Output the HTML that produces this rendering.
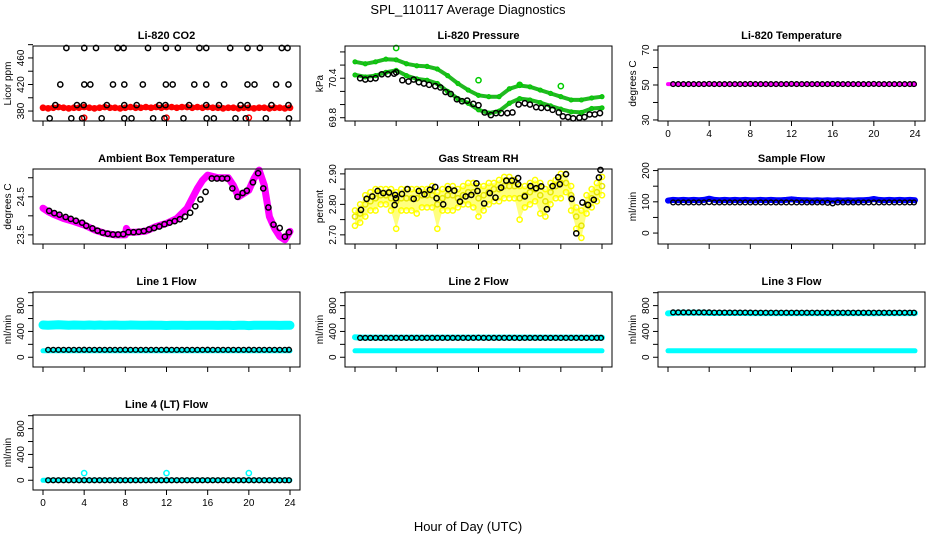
<!DOCTYPE html>
<html><head><meta charset="utf-8"><style>
html,body{margin:0;padding:0;background:#fff}
svg{display:block;font-family:"Liberation Sans",sans-serif}
</style></head><body>
<svg id="chart" width="936" height="540" viewBox="0 0 936 540" xmlns="http://www.w3.org/2000/svg">
<rect x="0" y="0" width="936" height="540" fill="#fff"/>
<text x="468" y="14" text-anchor="middle" font-size="13">SPL_110117  Average Diagnostics</text>
<text x="468" y="531" text-anchor="middle" font-size="13">Hour of Day (UTC)</text>
</svg>
<script>
// ---- shared time arrays ----
const HALF = [0,0.5,1,1.5,2,2.5,3,3.5,4,4.5,5,5.5,6,6.5,7,7.5,8,8.5,9,9.5,10,10.5,11,11.5,12,12.5,13,13.5,14,14.5,15,15.5,16,16.5,17,17.5,18,18.5,19,19.5,20,20.5,21,21.5,22,22.5,23,23.5,24];
const BT = [0.5,1,1.5,2,2.5,3,3.5,4,4.5,5,5.5,6,6.5,7,7.5,8,8.5,9,9.5,10,10.5,11,11.5,12,12.5,13,13.5,14,14.5,15,15.5,16,16.5,17,17.5,18,18.5,19,19.5,20,20.5,21,21.5,22,22.5,23,23.5,23.9];
const XTICKS = [0,4,8,12,16,20,24];

// ---- CO2 ----
const co2RedV = [385,384,385,386,385,384,385,385,386,385,384,385,386,385,385,384,385,386,385,385,386,385,386,385,386,386,385,386,386,385,386,385,386,385,385,384,385,385,384,385,385,384,385,385,384,385,385,384,385];
const co2RedOutT = [4,12,20];
const co2RedOutV = [370,370,370];
const co2BlkT = [2.27,4.01,5.15,7.25,7.83,10.2,11.94,13.1,15.2,15.86,18.19,19.87,21.07,23.2,23.76,
 1.68,4.01,4.6,6.8,7.9,9.7,11.94,12.6,14.7,15.86,17.6,19.87,20.55,22.65,23.85,
 1.2,3.3,3.95,6.2,7.9,9.1,11.3,11.9,14.2,15.86,17.1,19.2,19.87,22.2,23.85,
 0.65,2.75,3.8,5.7,7.9,8.6,10.7,11.8,13.65,15.9,16.6,18.7,19.7,21.65,23.9];
const co2BlkV = [475,475,475,475,475,475,475,475,475,475,475,475,475,475,475,
 420,420,420,420,420,420,420,420,420,420,420,420,420,420,420,
 389,389,389,389,389,389,389,389,389,389,389,389,389,389,389,
 369,369,369,369,369,369,369,369,369,369,369,369,369,369,369];

// ---- Pressure ----
const HOURS = [0,1,2,3,4,5,6,7,8,9,10,11,12,13,14,15,16,17,18,19,20,21,22,23,24];
const presUpV = [70.65,70.62,70.65,70.69,70.68,70.62,70.59,70.58,70.54,70.44,70.32,70.22,70.14,70.12,70.12,70.24,70.29,70.27,70.22,70.17,70.12,70.07,70.07,70.10,70.12];
const presLoV = [70.45,70.42,70.44,70.49,70.52,70.44,70.39,70.37,70.32,70.20,70.09,70.02,69.92,69.87,69.90,70.02,70.09,70.07,70.03,69.98,69.93,69.89,69.88,69.94,69.95];
const presOutT = [4,12,16,20];
const presOutV = [70.86,70.37,70.30,70.28];
const presBlkT = [0.5,1,1.5,2,2.6,3.2,3.8,4,4.6,5.2,5.7,6.2,6.7,7.2,7.8,8.3,8.8,9.3,9.9,10.4,10.9,11.5,12,12.6,13.2,13.7,14.2,14.8,15.3,15.9,16.5,17,17.6,18.1,18.7,19.2,19.8,20.2,20.7,21.2,21.8,22.3,22.8,23.3,23.8];
const presBlkV = [70.40,70.38,70.39,70.40,70.46,70.46,70.47,70.49,70.37,70.35,70.38,70.34,70.32,70.30,70.28,70.26,70.19,70.16,70.08,70.05,70.06,70.01,69.99,69.88,69.84,69.87,69.87,69.87,69.88,70.00,70.02,70.00,69.96,69.95,69.95,69.92,69.88,69.82,69.81,69.79,69.80,69.81,69.85,69.85,69.87];

// ---- Li-820 temperature ----
const tempMagV = [50.5,50.5,50.5,50.5,50.5,50.5,50.5,50.5,50.5,50.5,50.5,50.5,50.5,50.5,50.5,50.5,50.5,50.5,50.5,50.5,50.5,50.5,50.5,50.5,50.5,50.5,50.5,50.5,50.5,50.5,50.5,50.5,50.5,50.5,50.5,50.5,50.5,50.5,50.5,50.5,50.5,50.5,50.5,50.5,50.5,50.5,50.5,50.5,50.5];
const tempBlkV = [50.5,50.5,50.5,50.5,50.5,50.5,50.5,50.6,50.5,50.5,50.5,50.5,50.5,50.5,50.5,50.6,50.5,50.5,50.5,50.5,50.5,50.5,50.5,50.6,50.5,50.5,50.5,50.5,50.5,50.5,50.5,50.6,50.5,50.5,50.5,50.5,50.5,50.5,50.5,50.6,50.5,50.5,50.5,50.5,50.5,50.5,50.5,50.5];

// ---- Ambient box temperature ----
const ambT = [0,0.5,1,2,3,4,5,6,7,8,8.1,8.3,9,10,11,12,13,14,14.5,15,15.5,16,17,18,18.5,19,20,20.5,21,21.5,22,22.5,23,23.5,24];
const ambV = [24.20,24.11,24.04,23.93,23.85,23.76,23.63,23.54,23.50,23.50,23.67,23.57,23.57,23.60,23.72,23.80,23.93,24.20,24.46,24.72,24.93,25.07,25.00,25.00,24.80,24.50,24.67,24.98,25.20,24.80,23.98,23.67,23.46,23.37,23.59];
const ambBlkT = [0.6,1.1,1.6,2.2,2.7,3.2,3.8,4.2,4.8,5.3,5.8,6.3,6.8,7.3,7.8,8.3,8.8,9.3,9.8,10.3,10.8,11.3,11.8,12.3,12.8,13.3,13.8,14.3,14.8,15.3,15.8,16.4,16.9,17.4,17.9,18.4,18.9,19.4,19.8,20.4,20.9,21.4,21.9,22.4,23.0,23.5,23.9];
const ambBlkV = [24.13,24.07,24.03,23.97,23.92,23.87,23.82,23.74,23.67,23.61,23.56,23.53,23.51,23.51,23.52,23.57,23.57,23.58,23.60,23.64,23.68,23.72,23.78,23.82,23.86,23.91,23.98,24.08,24.25,24.43,24.63,24.98,24.98,24.98,24.98,24.72,24.50,24.60,24.66,24.88,25.12,24.72,24.22,23.77,23.68,23.45,23.57];

// ---- Gas stream RH ----
const rhLo = [2.73,2.74,2.76,2.78,2.78,2.80,2.80,2.78,2.72,2.78,2.78,2.78,2.77,2.79,2.79,2.79,2.72,2.78,2.78,2.78,2.79,2.80,2.80,2.79,2.76,2.78,2.80,2.81,2.81,2.82,2.82,2.82,2.75,2.79,2.80,2.81,2.77,2.76,2.80,2.82,2.82,2.84,2.78,2.72,2.69,2.77,2.79,2.81,2.83];
const rhMid = [2.76,2.77,2.80,2.81,2.82,2.83,2.83,2.82,2.81,2.82,2.82,2.82,2.82,2.83,2.83,2.83,2.80,2.82,2.83,2.83,2.82,2.83,2.84,2.84,2.82,2.83,2.84,2.85,2.85,2.86,2.86,2.86,2.82,2.83,2.84,2.85,2.83,2.81,2.84,2.86,2.87,2.87,2.83,2.76,2.73,2.80,2.82,2.84,2.86];
const rhHi = [2.78,2.80,2.83,2.84,2.85,2.85,2.85,2.85,2.84,2.85,2.85,2.85,2.85,2.85,2.85,2.86,2.84,2.85,2.86,2.86,2.85,2.86,2.87,2.87,2.86,2.86,2.87,2.87,2.88,2.89,2.89,2.88,2.86,2.86,2.87,2.88,2.87,2.85,2.87,2.88,2.90,2.90,2.86,2.79,2.78,2.83,2.85,2.87,2.89];
const rhBlkT = [0.58,1.13,1.68,2.2,2.75,3.3,3.85,3.9,3.98,4.56,5.1,5.7,6.2,6.75,7.28,7.8,7.93,8.57,9.07,9.65,10.2,10.75,11.3,11.8,11.9,12.55,13.1,13.65,14.2,14.7,15.25,15.85,15.85,16.5,17.05,17.6,18.1,18.65,19.2,19.75,19.9,20.5,21.05,21.5,22.1,22.65,23.2,23.7,23.85];
const rhBlkV = [2.782,2.818,2.826,2.844,2.837,2.839,2.798,2.831,2.820,2.834,2.850,2.818,2.844,2.833,2.848,2.857,2.820,2.800,2.850,2.845,2.809,2.826,2.831,2.869,2.844,2.803,2.837,2.822,2.855,2.878,2.878,2.886,2.866,2.826,2.860,2.853,2.859,2.784,2.860,2.889,2.866,2.899,2.818,2.705,2.806,2.798,2.815,2.888,2.913];

// ---- Sample flow ----
const sfBlueV = [104,106,105,106,105,106,105,106,110,106,105,106,105,106,105,106,105,105,106,105,106,105,105,106,108,106,105,105,104,105,104,105,104,105,104,105,104,105,105,106,109,106,105,106,105,106,105,106,105];
const sfBlkV = [98,98,98,98,98,98,98,99,98,98,98,98,98,98,98,98,98,98,98,98,98,98,98,98,98,98,98,98,98,98,97,95,98,98,98,98,98,98,98,98,98,98,98,98,98,98,98,98];

// ---- Line flows ----
const l1HiV = [500,495,500,505,500,495,500,498,495,500,497,500,495,498,500,497,495,500,498,497,495,498,497,495,492,495,497,495,494,495,497,495,496,495,494,497,495,492,495,497,490,495,497,495,496,495,494,495,495];
const l1LoV = [100,100,100,100,100,100,100,100,100,100,100,100,100,100,100,100,100,100,100,100,100,100,100,100,100,100,100,100,100,100,100,100,100,100,100,100,100,100,100,100,100,100,100,100,100,100,100,100,100];
const l1BlkV = [115,115,115,115,115,115,115,116,115,115,115,115,115,115,115,116,115,115,115,115,115,115,115,116,115,115,115,115,115,115,115,116,115,115,115,115,115,115,115,116,115,115,115,115,115,115,115,116];
const l2HiV = [310,305,305,305,305,305,305,305,305,305,305,305,305,305,305,305,305,305,305,305,305,305,305,305,305,305,305,305,305,305,305,305,305,305,305,305,305,305,305,305,305,305,305,305,305,305,305,305,305];
const l2LoV = [100,100,100,100,100,100,100,100,100,100,100,100,100,100,100,100,100,100,100,100,100,100,100,100,100,100,100,100,100,100,100,100,100,100,100,100,100,100,100,100,100,100,100,100,100,100,100,100,100];
const l2BlkV = [300,300,300,300,300,300,300,300,300,300,300,300,300,300,300,300,300,300,300,300,300,300,300,302,300,300,300,300,300,300,300,298,300,300,300,300,300,300,300,300,300,300,300,300,300,300,300,300];
const l3HiV = [680,685,688,688,688,688,688,688,686,686,686,686,686,686,686,686,684,684,684,684,684,684,684,684,684,684,684,684,684,684,684,684,682,684,684,684,684,684,684,684,682,684,684,684,684,684,684,684,684];
const l3LoV = [100,100,100,100,100,100,100,100,100,100,100,100,100,100,100,100,100,100,100,100,100,100,100,100,100,100,100,100,100,100,100,100,100,100,100,100,100,100,100,100,100,100,100,100,100,100,100,100,100];
const l3BlkV = [695,695,695,695,695,695,695,695,692,692,692,692,692,692,692,692,690,690,690,690,690,690,690,690,690,690,690,690,690,690,690,690,690,690,690,690,690,690,690,690,690,690,690,690,690,690,690,690];
const l4CyanV = [0,0,0,0,0,0,0,0,0,0,0,0,0,0,0,0,0,0,0,0,0,0,0,0,0,0,0,0,0,0,0,0,0,0,0,0,0,0,0,0,0,0,0,0,0,0,0,0,0];
const l4OutT = [4,12,20];
const l4OutV = [110,110,110];
const l4BlkV = [0,0,0,0,0,0,0,0,0,0,0,0,0,0,0,0,0,0,0,0,0,0,0,0,0,0,0,0,0,0,0,0,0,0,0,0,0,0,0,0,0,0,0,0,0,0,0,0];

const NS = 'http://www.w3.org/2000/svg';
const svg = document.getElementById('chart');
const COLX0 = [43,355,668];
const ROWT = [46,169,292,415];
const BOXH = 75;
const PXH = 247/24;

function mk(tag, attrs, parent) {
  const e = document.createElementNS(NS, tag);
  for (const k in attrs) e.setAttribute(k, attrs[k]);
  (parent || svg).appendChild(e);
  return e;
}

function panel(name, title, col, row, ylo, yhi, yticks, ylabels, ylab, dec) {
  const g = mk('g', {});
  
  
  const x0 = COLX0[col], top = ROWT[row], bot = top + BOXH;
  const L = x0 - 10, R = x0 + 247 + 10;
  const sx = t => x0 + t * PXH;
  const sy = v => bot - (v - ylo) / (yhi - ylo) * BOXH;
  const t = mk('text', {x: (L + R) / 2, y: top - 7, 'text-anchor': 'middle', 'font-size': 11, 'font-weight': 'bold'}, g);
  t.textContent = title;
  
  
  const xa = mk('g', {}, g);
  
  
  XTICKS.forEach(v => {
    mk('line', {x1: sx(v), x2: sx(v), y1: bot, y2: bot + 5, stroke: '#000', 'stroke-width': 1}, xa);
  });
  const ya = mk('g', {}, g);
  
  
  yticks.forEach(v => {
    mk('line', {x1: L - 5, x2: L, y1: sy(v), y2: sy(v), stroke: '#000', 'stroke-width': 1}, ya);
  });
  ylabels.forEach(v => {
    const tx = mk('text', {x: 0, y: 0, 'text-anchor': 'middle', 'font-size': 10, transform: `translate(${L - 9},${sy(v)}) rotate(-90)`}, ya);
    tx.textContent = dec ? v.toFixed(dec) : String(v);
    
    
  });
  const yl = mk('text', {x: 0, y: 0, 'text-anchor': 'middle', 'font-size': 10, transform: `translate(${L - 22},${(top + bot) / 2}) rotate(-90)`}, ya);
  yl.textContent = ylab;
  
  
  return {g, sx, sy, L, R, top, bot, xa, name};
}

function finish(p, withLabels) {
  mk('rect', {x: p.L, y: p.top, width: p.R - p.L, height: BOXH, fill: 'none', stroke: '#000', 'stroke-width': 1}, p.g);
  if (withLabels) {
    XTICKS.forEach(v => {
      const tx = mk('text', {x: p.sx(v), y: p.bot + 16, 'text-anchor': 'middle', 'font-size': 10}, p.xa);
      tx.textContent = String(v);
      
      
    });
  }
}

function band(p, ts, vs, color, w, nm) {
  const pts = ts.map((t, i) => p.sx(t).toFixed(1) + ',' + p.sy(vs[i]).toFixed(1)).join(' ');
  const pl = mk('polyline', {points: pts, fill: 'none', stroke: color, 'stroke-width': w, 'stroke-linejoin': 'round', 'stroke-linecap': 'round'}, p.g);
  
  
}

function pts(p, ts, vs, color, nm, r, sw) {
  const grp = mk('g', {}, p.g);
  
  
  ts.forEach((t, i) => {
    const c = mk('circle', {cx: p.sx(t), cy: p.sy(vs[i]), r: r || 2.6, fill: 'none', stroke: color, 'stroke-width': sw || 1.5}, grp);
    
    
  });
}

// CO2
let p = panel('co2', 'Li-820 CO2', 0, 0, 365, 478, [380,400,420,440,460,480], [380,420,460], 'Licor ppm');
band(p, HALF, co2RedV, '#ff0000', 5, 'co2-red-band');
pts(p, HALF, co2RedV, '#ff0000', 'co2-red');
pts(p, co2RedOutT, co2RedOutV, '#ff0000', 'co2-red-outlier');
pts(p, co2BlkT, co2BlkV, '#000', 'co2-black');
finish(p, false);

// Pressure
p = panel('pressure', 'Li-820 Pressure', 1, 0, 69.75, 70.89, [69.8,70.0,70.2,70.4,70.6,70.8], [69.8,70.4], 'kPa', 1);
band(p, HOURS, presUpV, '#22b822', 4, 'pressure-upper-band');
band(p, HOURS, presLoV, '#22b822', 4, 'pressure-lower-band');
pts(p, HOURS, presUpV, '#00cc00', 'pressure-upper', 2, 1.2);
pts(p, HOURS, presLoV, '#00cc00', 'pressure-lower', 2, 1.2);
pts(p, presOutT, presOutV, '#00cc00', 'pressure-outlier');
pts(p, presBlkT, presBlkV, '#000', 'pressure-black');
finish(p, false);

// Temperature
p = panel('li820-temp', 'Li-820 Temperature', 2, 0, 29.4, 72.3, [30,40,50,60,70], [30,50,70], 'degrees C');
band(p, HALF, tempMagV, '#ff00ff', 4, 'temp-magenta-band');
pts(p, BT, tempBlkV, '#000', 'temp-black', 2.4, 1.3);
finish(p, true);

// Ambient
p = panel('ambient', 'Ambient Box Temperature', 0, 1, 23.26, 25.23, [23.5,24.0,24.5,25.0], [23.5,24.5], 'degrees C', 1);
band(p, ambT, ambV, '#ff00ff', 7, 'ambient-magenta-band');
pts(p, ambBlkT, ambBlkV, '#000', 'ambient-black');
finish(p, false);

// RH
p = panel('rh', 'Gas Stream RH', 1, 1, 2.67, 2.916, [2.70,2.75,2.80,2.85,2.90], [2.70,2.80,2.90], 'percent', 2);
{
  const up = HALF.map((t, i) => p.sx(t).toFixed(1) + ',' + p.sy(rhHi[i]).toFixed(1));
  const dn = HALF.map((t, i) => p.sx(t).toFixed(1) + ',' + p.sy(rhLo[i]).toFixed(1)).reverse();
  const pg = mk('polygon', {points: up.concat(dn).join(' '), fill: '#ffff00', opacity: 0.5}, p.g);
  
  
}
pts(p, HALF, rhLo, '#ffff00', 'rh-yellow-low');
pts(p, HALF, rhMid, '#e6e600', 'rh-yellow-mid');
pts(p, HALF, rhHi, '#ffff00', 'rh-yellow-high');
pts(p, rhBlkT, rhBlkV, '#000', 'rh-black');
finish(p, false);

// Sample flow
p = panel('sample-flow', 'Sample Flow', 2, 1, -35, 205, [0,50,100,150,200], [0,100,200], 'ml/min');
band(p, HALF, sfBlueV, '#0000ff', 6, 'sample-flow-blue-band');
pts(p, BT, sfBlkV, '#000', 'sample-flow-black', 2.4, 1.4);
finish(p, false);

const FT = [0,200,400,600,800,1000], FL = [0,400,800];
// Line 1
p = panel('line1', 'Line 1 Flow', 0, 2, -151, 1011, FT, FL, 'ml/min');
band(p, HALF, l1HiV, '#00ffff', 9, 'line1-upper-band');
band(p, HALF, l1LoV, '#00ffff', 5, 'line1-lower-band');
pts(p, BT, l1BlkV, '#000', 'line1-black', 2.4, 1.4);
finish(p, false);
// Line 2
p = panel('line2', 'Line 2 Flow', 1, 2, -151, 1011, FT, FL, 'ml/min');
band(p, HALF, l2HiV, '#00ffff', 6, 'line2-upper-band');
band(p, HALF, l2LoV, '#00ffff', 5, 'line2-lower-band');
pts(p, BT, l2BlkV, '#000', 'line2-black', 2.4, 1.4);
finish(p, false);
// Line 3
p = panel('line3', 'Line 3 Flow', 2, 2, -151, 1011, FT, FL, 'ml/min');
band(p, HALF, l3HiV, '#00ffff', 6, 'line3-upper-band');
band(p, HALF, l3LoV, '#00ffff', 5, 'line3-lower-band');
pts(p, BT, l3BlkV, '#000', 'line3-black', 2.4, 1.4);
finish(p, false);
// Line 4
p = panel('line4', 'Line 4 (LT) Flow', 0, 3, -151, 1011, FT, FL, 'ml/min');
band(p, HALF, l4CyanV, '#00ffff', 5, 'line4-cyan-band');
pts(p, l4OutT, l4OutV, '#00ffff', 'line4-outlier');
pts(p, BT, l4BlkV, '#000', 'line4-black', 2.4, 1.4);
finish(p, true);
</script>
</body></html>
